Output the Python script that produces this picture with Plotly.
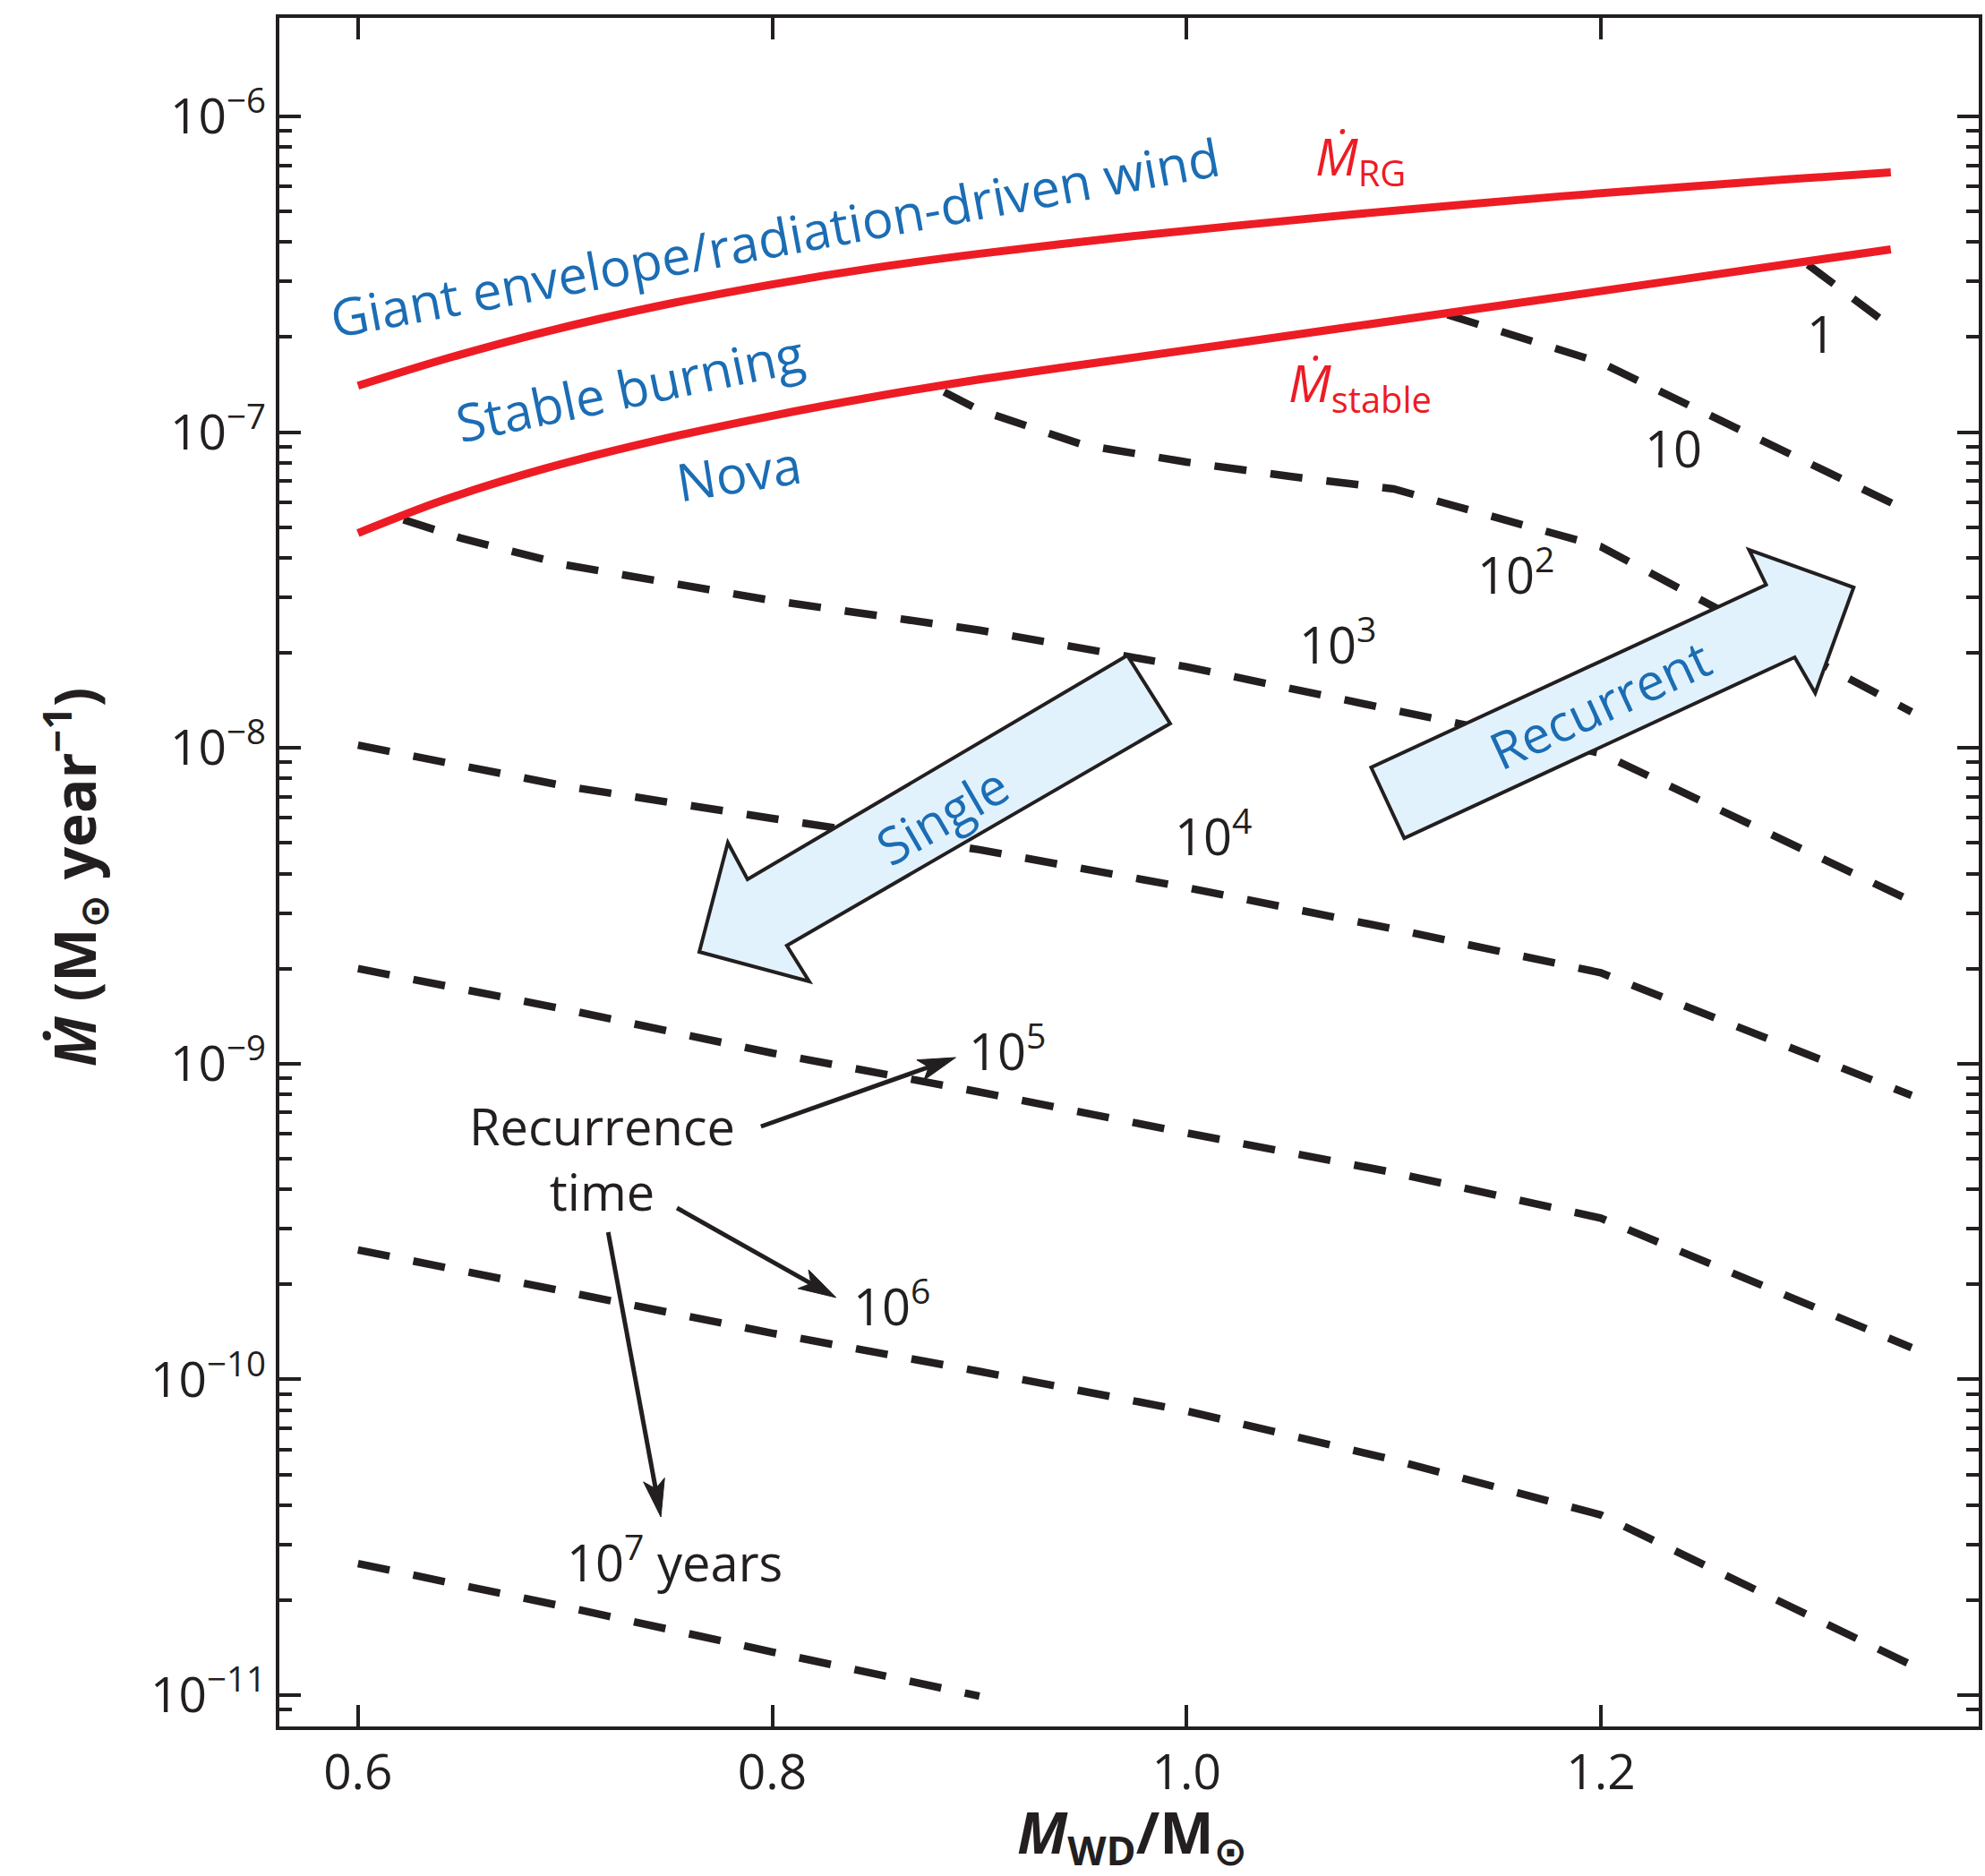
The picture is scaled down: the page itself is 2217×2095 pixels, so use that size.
import math
import plotly.graph_objects as go

# ------------------------------------------------------------------
# Data
# ------------------------------------------------------------------
# Upper red curve: M_dot_RG
mwd_rg = [0.60, 0.64, 0.69, 0.745, 0.80, 0.85, 0.90, 0.97, 1.08, 1.18, 1.29, 1.34]
mdot_rg = [1.403e-7, 1.69e-7, 2.075e-7, 2.509e-7, 2.938e-7, 3.319e-7, 3.673e-7,
           4.15e-7, 4.89e-7, 5.579e-7, 6.317e-7, 6.644e-7]

# Lower red curve: M_dot_stable
mwd_stable = [0.60, 0.64, 0.69, 0.745, 0.80, 0.85, 0.90, 0.97, 1.08, 1.18, 1.29, 1.34]
mdot_stable = [4.79e-8, 6.05e-8, 7.66e-8, 9.44e-8, 1.127e-7, 1.297e-7, 1.469e-7,
               1.706e-7, 2.158e-7, 2.679e-7, 3.404e-7, 3.793e-7]

# Recurrence-time contours (years)
mwd_t1 = [1.30, 1.342]
mdot_t1 = [3.39e-7, 2.11e-7]

mwd_t10 = [1.126, 1.20, 1.35]
mdot_t10 = [2.355e-7, 1.66e-7, 5.56e-8]

mwd_t1e2 = [0.883, 0.90, 0.95, 1.00, 1.05, 1.10, 1.20, 1.35]
mdot_t1e2 = [1.34e-7, 1.175e-7, 9.12e-8, 8.04e-8, 7.24e-8, 6.61e-8, 4.34e-8, 1.30e-8]

mwd_t1e3 = [0.622, 0.65, 0.70, 0.80, 0.90, 1.00, 1.10, 1.20, 1.35]
mdot_t1e3 = [5.28e-8, 4.61e-8, 3.80e-8, 2.93e-8, 2.36e-8, 1.807e-8, 1.318e-8, 9.62e-9, 3.27e-9]

mwd_grid = [0.60, 0.70, 0.80, 0.90, 1.00, 1.10, 1.20, 1.35]
mdot_t1e4 = [1.02e-8, 7.57e-9, 5.98e-9, 4.76e-9, 3.61e-9, 2.67e-9, 1.94e-9, 7.93e-10]
mdot_t1e5 = [2.00e-9, 1.486e-9, 1.08e-9, 8.13e-10, 6.03e-10, 4.52e-10, 3.24e-10, 1.26e-10]
mdot_t1e6 = [2.57e-10, 1.905e-10, 1.40e-10, 1.06e-10, 7.94e-11, 5.56e-11, 3.72e-11, 1.245e-11]

mwd_t1e7 = [0.60, 0.70, 0.80, 0.90]
mdot_t1e7 = [2.61e-11, 1.905e-11, 1.37e-11, 9.93e-12]

# Axis ticks
x_tickvals = [0.6, 0.8, 1.0, 1.2]
x_ticktext = ["0.6", "0.8", "1.0", "1.2"]
y_exponents = [-11, -10, -9, -8, -7, -6]
y_tickvals = [10.0 ** e for e in y_exponents]
y_ticktext = ["10<sup>\u2212%d</sup>" % (-e) for e in y_exponents]
y_minor = [m * 10.0 ** e for e in range(-12, -6) for m in range(2, 10)]
y_minor = [v for v in y_minor if 8.5e-12 < v < 1e-6]

# ------------------------------------------------------------------
# Styling / layout geometry (pixels of the 2217 x 2095 page)
# ------------------------------------------------------------------
W, H = 2217, 2095
L, R, T, B = 312, 2214, 20, 1928
RED = "#ed1c24"
BLACK = "#231f20"
BLUE = "#1b6db4"
FILL = "#e2f2fc"
FONT = "Open Sans, DejaVu Sans, sans-serif"

X_RANGE = [0.6 - (400 - L) / 2318.5, 1.2 + (R - 1791) / 2318.5]
Y_RANGE = [-11 - (B - 1893) / 352.6, -6 + (130 - T) / 352.6]


def P(X, Y):
    """page pixel -> paper coordinates"""
    return (X - L) / (R - L), (B - Y) / (B - T)


def path_from_pixels(pts):
    s = ""
    for i, (X, Y) in enumerate(pts):
        px, py = P(X, Y)
        s += ("M" if i == 0 else "L") + "%.5f,%.5f " % (px, py)
    return s + "Z"


fig = go.Figure()

dash_style = dict(color=BLACK, width=8.5, dash="36px,27px")
for xs, ys in [(mwd_t1, mdot_t1), (mwd_t10, mdot_t10), (mwd_t1e2, mdot_t1e2),
               (mwd_t1e3, mdot_t1e3), (mwd_grid, mdot_t1e4), (mwd_grid, mdot_t1e5),
               (mwd_grid, mdot_t1e6), (mwd_t1e7, mdot_t1e7)]:
    fig.add_trace(go.Scatter(x=xs, y=ys, mode="lines", line=dash_style,
                             hoverinfo="skip", showlegend=False))

for xs, ys in [(mwd_rg, mdot_rg), (mwd_stable, mdot_stable)]:
    fig.add_trace(go.Scatter(x=xs, y=ys, mode="lines",
                             line=dict(color=RED, width=9, shape="spline", smoothing=0.8),
                             hoverinfo="skip", showlegend=False))

shapes = []
# Block arrows
single_pts = [(1261, 732), (1309, 808), (880, 1056), (905, 1096), (782, 1063),
              (814, 941), (836, 982)]
recurrent_pts = [(1534, 857), (1571, 936), (2008, 734), (2031, 774), (2074, 656),
                 (1957, 614), (1976, 653)]
for pts in (single_pts, recurrent_pts):
    shapes.append(dict(type="path", xref="paper", yref="paper",
                       path=path_from_pixels(pts), fillcolor=FILL,
                       line=dict(color=BLACK, width=4), layer="above"))

# Thin pointer arrows from "Recurrence time"
pointers = [((851, 1258), (1069, 1181)), ((757, 1349), (935, 1449)), ((680, 1376), (739, 1694))]
for (sx, sy), (tx, ty) in pointers:
    dx, dy = tx - sx, ty - sy
    ln = math.hypot(dx, dy)
    ux, uy = dx / ln, dy / ln
    nx, ny = -uy, ux
    hl, hw, notch = 42, 12, 32
    bx, by = tx - ux * hl, ty - uy * hl
    mx, my = tx - ux * notch, ty - uy * notch
    head = [(tx, ty), (bx + nx * hw, by + ny * hw), (mx, my), (bx - nx * hw, by - ny * hw)]
    x0, y0 = P(sx, sy)
    x1, y1 = P(mx + ux * 2, my + uy * 2)
    shapes.append(dict(type="line", xref="paper", yref="paper", x0=x0, y0=y0, x1=x1, y1=y1,
                       line=dict(color=BLACK, width=5)))
    shapes.append(dict(type="path", xref="paper", yref="paper", path=path_from_pixels(head),
                       fillcolor=BLACK, line=dict(color=BLACK, width=1)))

annotations = []


def add_text(text, X, Y, color=BLACK, size=56, angle=0, bold=False):
    px, py = P(X, Y)
    annotations.append(dict(text=text, x=px, y=py, xref="paper", yref="paper",
                            showarrow=False, textangle=angle, xanchor="center",
                            yanchor="middle",
                            font=dict(family=FONT, size=size, color=color,
                                      weight="bold" if bold else "normal")))


add_text("Giant envelope/radiation-driven wind", 866, 264, BLUE, 58, -10.4)
add_text("Stable burning", 704, 432, BLUE, 58, -11.7)
add_text("Nova", 826, 527, BLUE, 58, -8.9)
add_text("Single", 1054, 910, BLUE, 57, -30)
add_text("Recurrent", 1790, 786, BLUE, 57, -24.8)
add_text("<i>\u1E40</i><sub>RG</sub>", 1522, 178, RED, 57)
add_text("<i>\u1E40</i><sub>stable</sub>", 1522, 430, RED, 57)
add_text("1", 2038, 372)
add_text("10", 1872, 500)
add_text("10<sup>2</sup>", 1696, 638)
add_text("10<sup>3</sup>", 1496, 716)
add_text("10<sup>4</sup>", 1357, 930)
add_text("10<sup>5</sup>", 1127, 1170)
add_text("10<sup>6</sup>", 997, 1455)
add_text("10<sup>7</sup> years", 754, 1741)
add_text("Recurrence<br>time", 673, 1293)
add_text("<i>\u1E40</i> (M<sub>\u2299</sub> year<sup>\u22121</sup>)", 82, 979, BLACK, 64, -90, True)
add_text("<i>M</i><sub>WD</sub>/M<sub>\u2299</sub>", 1267, 2049, BLACK, 64, 0, True)

fig.update_layout(
    width=W, height=H, autosize=False,
    margin=dict(l=L, r=W - R, t=T, b=H - B),
    paper_bgcolor="white", plot_bgcolor="white",
    font=dict(family=FONT, color=BLACK),
    shapes=shapes, annotations=annotations,
    xaxis=dict(range=X_RANGE, tickmode="array", tickvals=x_tickvals, ticktext=x_ticktext,
               ticks="inside", ticklen=24, tickwidth=4, tickcolor=BLACK,
               showline=True, linewidth=4, linecolor=BLACK, mirror="ticks",
               showgrid=False, zeroline=False,
               tickfont=dict(family=FONT, size=55, color=BLACK)),
    yaxis=dict(type="log", range=Y_RANGE, tickmode="array", tickvals=y_tickvals,
               ticktext=y_ticktext, ticks="inside", ticklen=24, tickwidth=4,
               tickcolor=BLACK, showline=True, linewidth=4, linecolor=BLACK,
               mirror="ticks", showgrid=False, zeroline=False,
               tickfont=dict(family=FONT, size=55, color=BLACK),
               minor=dict(tickmode="array", tickvals=y_minor, ticks="inside",
                          ticklen=14, tickwidth=4, tickcolor=BLACK, showgrid=False)),
)

fig.write_html("out.html")
